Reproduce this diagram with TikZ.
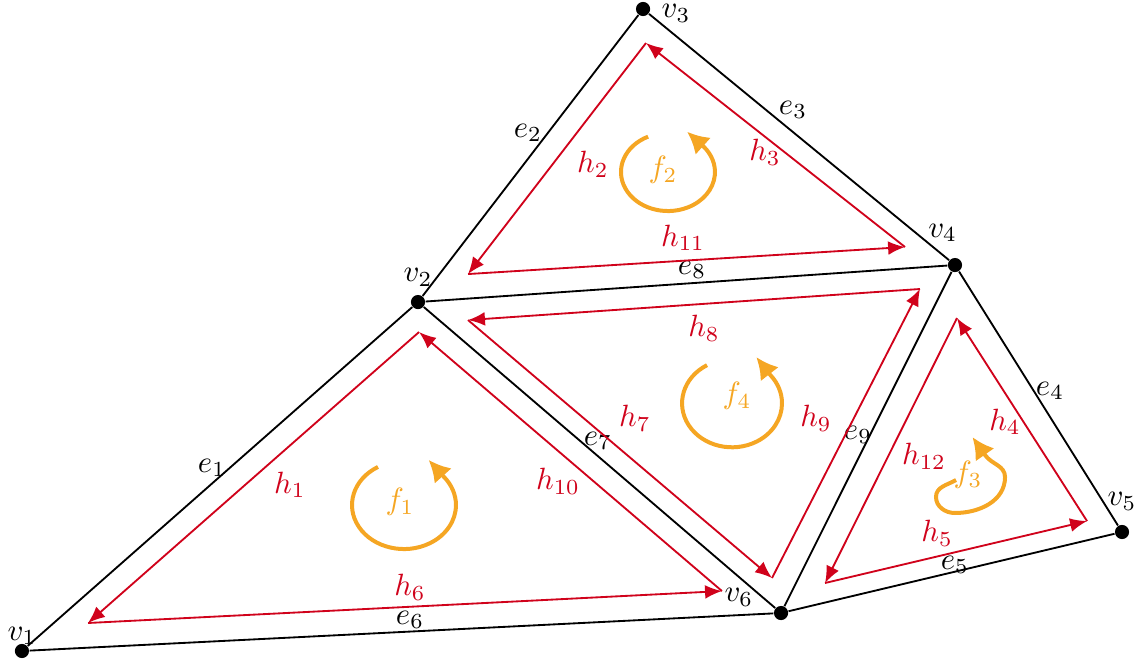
\documentclass[tikz,border=0pt]{standalone}
\usepackage{tikz}
\usetikzlibrary{arrows.meta}
\definecolor{hred}{RGB}{208,2,27}
\definecolor{forange}{RGB}{245,166,35}
\tikzset{vx/.style={circle, fill, inner sep=0pt, minimum size=4.6pt},
  edg/.style={semithick},
  half/.style={-{Latex[length=5.5pt,width=4.5pt]}, semithick, hred},
  loop/.style={-{Latex[length=7pt,width=7.5pt]}, line width=1.3pt, forange},
  hl/.style={text=hred},
  fl/.style={text=forange}}

\begin{document}
\begin{tikzpicture}
  \useasboundingbox (0,0) rectangle (12.96,7.589);
  % vertices
  \node[vx, label={[label distance=-4pt]above:$v_1$}] (v1) at (0.251,0.149) {};
  \node[vx, label={[label distance=-1pt]above:$v_2$}] (v2) at (4.777,4.137) {};
  \node[vx, label={[yshift=-1.5pt]right:$v_3$}] (v3) at (7.349,7.486) {};
  \node[vx, label={[xshift=-4pt, yshift=1.5pt]above:$v_4$}] (v4) at (10.914,4.560) {};
  \node[vx, label={[label distance=1pt]above:$v_5$}] (v5) at (12.823,1.509) {};
  \node[vx, label={[xshift=-3pt, yshift=5pt]left:$v_6$}] (v6) at (8.926,0.583) {};
  % edges
  \draw[edg] (v1) -- (v2) -- (v3) -- (v4) -- (v5) -- (v6) -- (v1);
  \draw[edg] (v2) -- (v6) -- (v4) -- (v2);
  \node at (2.423,2.24) {$e_1$};
  \node at (6.034,6.069) {$e_2$};
  \node at (9.063,6.331) {$e_3$};
  \node at (12.0,3.12) {$e_4$};
  \node at (10.914,1.131) {$e_5$};
  \node at (4.686,0.503) {$e_6$};
  \node at (6.834,2.549) {$e_7$};
  \node at (7.909,4.503) {$e_8$};
  \node at (9.806,2.617) {$e_9$};
  % half-edge corners
  \coordinate (a1) at (4.789,3.794);
  \coordinate (a2) at (1.006,0.469);
  \coordinate (a3) at (8.251,0.834);
  \coordinate (b1) at (7.383,7.097);
  \coordinate (b2) at (5.349,4.457);
  \coordinate (b3) at (10.343,4.766);
  \coordinate (c1) at (10.937,3.954);
  \coordinate (c2) at (9.429,0.926);
  \coordinate (c3) at (12.423,1.634);
  \coordinate (d1) at (10.514,4.286);
  \coordinate (d2) at (5.349,3.931);
  \coordinate (d3) at (8.823,0.983);
  % half-edges
  \draw[half] (a1) -- (a2);
  \draw[half] (a2) -- (a3);
  \draw[half] (a3) -- (a1);
  \draw[half] (b1) -- (b2);
  \draw[half] (b2) -- (b3);
  \draw[half] (b3) -- (b1);
  \draw[half] (c1) -- (c2);
  \draw[half] (c2) -- (c3);
  \draw[half] (c3) -- (c1);
  \draw[half] (d1) -- (d2);
  \draw[half] (d2) -- (d3);
  \draw[half] (d3) -- (d1);
  \node[hl] at (3.314,2.046) {$h_1$};
  \node[hl] at (6.777,5.714) {$h_2$};
  \node[hl] at (8.743,5.851) {$h_3$};
  \node[hl] at (11.486,2.766) {$h_4$};
  \node[hl] at (10.709,1.497) {$h_5$};
  \node[hl] at (4.686,0.88) {$h_6$};
  \node[hl] at (7.257,2.811) {$h_7$};
  \node[hl] at (8.046,3.84) {$h_8$};
  \node[hl] at (9.326,2.811) {$h_9$};
  \node[hl] at (6.377,2.091) {$h_{10}$};
  \node[hl] at (7.806,4.869) {$h_{11}$};
  \node[hl] at (10.56,2.377) {$h_{12}$};
  % faces
  \draw[loop] (4.617,1.817) ++(120:0.594 and 0.503) arc[start angle=120, end angle=400, x radius=0.594, y radius=0.503] -- ++(132:0.26);
  \draw[loop] (7.634,5.623) ++(115:0.537 and 0.446) arc[start angle=115, end angle=400, x radius=0.537, y radius=0.446] -- ++(138:0.26);
  \draw[loop] (8.366,2.98) ++(120:0.571 and 0.503) arc[start angle=120, end angle=400, x radius=0.571, y radius=0.503] -- ++(128:0.26);
  \draw[loop] (10.926,2.103) to[out=210, in=90] (10.697,1.909) to[out=-90, in=180] (10.914,1.726) to[out=0, in=-90] (11.486,2.137) to[out=90, in=-55] (11.257,2.389) -- ++(125:0.25);
  \node[fl] at (4.571,1.851) {$f_1$};
  \node[fl] at (7.577,5.646) {$f_2$};
  \node[fl] at (11.063,2.16) {$f_3$};
  \node[fl] at (8.423,3.063) {$f_4$};
\end{tikzpicture}
\end{document}
